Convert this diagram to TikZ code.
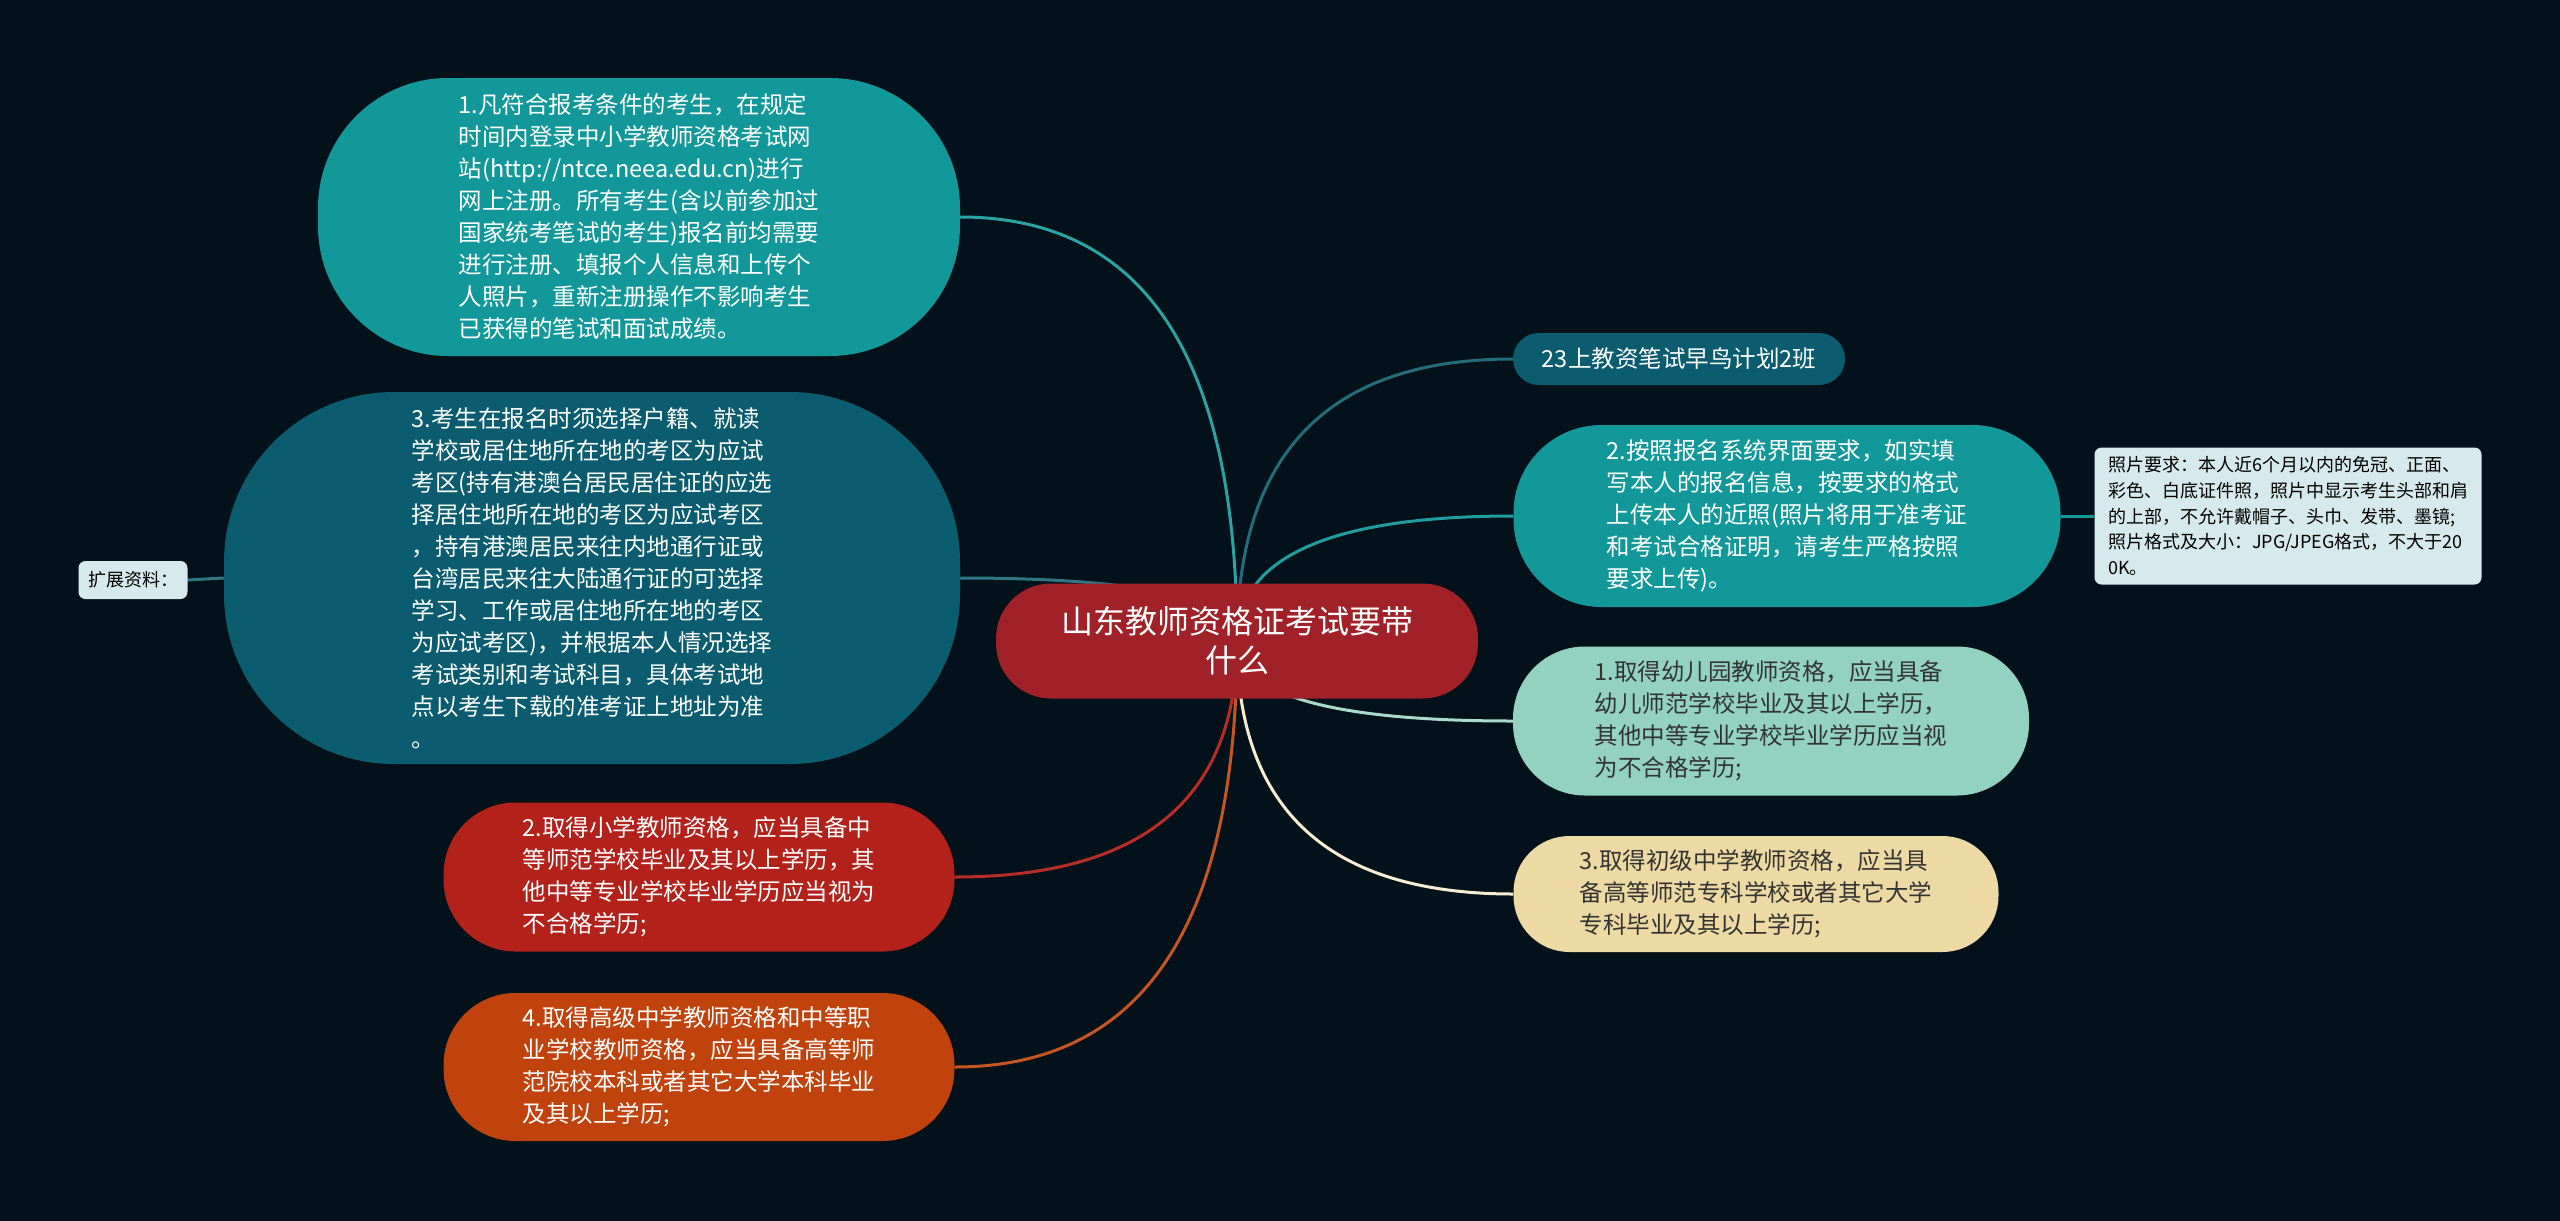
\documentclass[tikz,border=0pt]{standalone}
\usepackage{fontspec}
\newfontfamily\cjk{Noto Sans CJK SC}
\usetikzlibrary{positioning, calc, backgrounds}

\definecolor{bgdark}{HTML}{03111A}
\definecolor{rootred}{HTML}{A02228}
\definecolor{tealA}{HTML}{13989A}
\definecolor{tealB}{HTML}{0A5C6E}
\definecolor{redB}{HTML}{B3221A}
\definecolor{orangeB}{HTML}{C0420C}
\definecolor{mintB}{HTML}{93D2C0}
\definecolor{sandB}{HTML}{ECD9A3}
\definecolor{noteB}{HTML}{D6E9ED}

\begin{document}
\begin{tikzpicture}[x=1pt, y=-1pt]
\tikzset{
  topic/.style={rounded corners=#1, inner sep=0pt, align=left, text=white,
    font=\cjk\fontsize{23.5}{32}\selectfont},
  memo/.style={rounded corners=7, inner sep=0pt, align=left, text=black, fill=noteB,
    font=\cjk\fontsize{18}{25.7}\selectfont},
  branch/.style={line width=3pt, to path={.. controls ($(\tikztostart)!0.667!(\tikztostart |- \tikztotarget)$)
    and ($(\tikztotarget)!0.667!(\tikztostart |- \tikztotarget)$) .. (\tikztotarget)}}
}
\useasboundingbox (0,0) rectangle (2560,1221);

% 中心
\node[topic=55, fill=rootred, align=center, minimum width=482, minimum height=115,
  font=\cjk\fontsize{32}{39}\selectfont] (root) at (1237,641) {山东教师资格证考试要带\\什么};

% 左侧
\node[topic=130, fill=tealA, minimum width=642, minimum height=278] (n1) at (639,217)
  {1.凡符合报考条件的考生，在规定\\时间内登录中小学教师资格考试网\\站(http://ntce.neea.edu.cn)进行\\网上注册。所有考生(含以前参加过\\国家统考笔试的考生)报名前均需要\\进行注册、填报个人信息和上传个\\人照片，重新注册操作不影响考生\\已获得的笔试和面试成绩。};
\node[topic=170, fill=tealB, minimum width=736, minimum height=372] (n3) at (592,578)
  {3.考生在报名时须选择户籍、就读\\学校或居住地所在地的考区为应试\\考区(持有港澳台居民居住证的应选\\择居住地所在地的考区为应试考区\\，持有港澳居民来往内地通行证或\\台湾居民来往大陆通行证的可选择\\学习、工作或居住地所在地的考区\\为应试考区)，并根据本人情况选择\\考试类别和考试科目，具体考试地\\点以考生下载的准考证上地址为准\\。};
\node[memo, minimum width=109, minimum height=38] (ext) at (133,580) {扩展资料：};
\node[topic=72, fill=redB, minimum width=511, minimum height=149] (L2) at (699,877)
  {2.取得小学教师资格，应当具备中\\等师范学校毕业及其以上学历，其\\他中等专业学校毕业学历应当视为\\不合格学历;};
\node[topic=72, fill=orangeB, minimum width=511, minimum height=148] (L4) at (699,1067)
  {4.取得高级中学教师资格和中等职\\业学校教师资格，应当具备高等师\\范院校本科或者其它大学本科毕业\\及其以上学历;};

% 右侧
\node[topic=26, fill=tealB, minimum width=332, minimum height=52] (R0) at (1679,359) {23上教资笔试早鸟计划2班};
\node[topic=88, fill=tealA, minimum width=547, minimum height=182] (R2) at (1787,516)
  {2.按照报名系统界面要求，如实填\\写本人的报名信息，按要求的格式\\上传本人的近照(照片将用于准考证\\和考试合格证明，请考生严格按照\\要求上传)。};
\node[memo, minimum width=387, minimum height=137] (note) at (2288,516)
  {照片要求：本人近6个月以内的免冠、正面、\\彩色、白底证件照，照片中显示考生头部和肩\\的上部，不允许戴帽子、头巾、发带、墨镜;\\照片格式及大小：JPG/JPEG格式，不大于20\\0K。};
\node[topic=72, fill=mintB, text=black!80, minimum width=516, minimum height=149] (R1) at (1771,721)
  {1.取得幼儿园教师资格，应当具备\\幼儿师范学校毕业及其以上学历，\\其他中等专业学校毕业学历应当视\\为不合格学历;};
\node[topic=56, fill=sandB, text=black!80, minimum width=485, minimum height=116] (R3) at (1756,894)
  {3.取得初级中学教师资格，应当具\\备高等师范专科学校或者其它大学\\专科毕业及其以上学历;};

\begin{scope}[on background layer]
  \fill[bgdark] (0,0) rectangle (2560,1221);
  % 连线
  \draw[branch, tealA!90!white] (root.center) to (n1.east);
  \draw[branch, tealB!85!white] (root.center) to (n3.east);
  \draw[branch, redB!95!white] (root.center) to (L2.east);
  \draw[branch, orangeB!90!white] (root.center) to (L4.east);
  \draw[branch, tealB!90!white] (root.center) to (R0.west);
  \draw[branch, tealA!95!white] (root.center) to (R2.west);
  \draw[branch, mintB!80!white] (root.center) to (R1.west);
  \draw[branch, sandB!50!white] (root.center) to (R3.west);
  \draw[line width=3pt, tealB!85!white] (n3.west) -- (ext.east);
  \draw[line width=3pt, tealA] (R2.east) -- (note.west);
\end{scope}
\end{tikzpicture}
\end{document}
